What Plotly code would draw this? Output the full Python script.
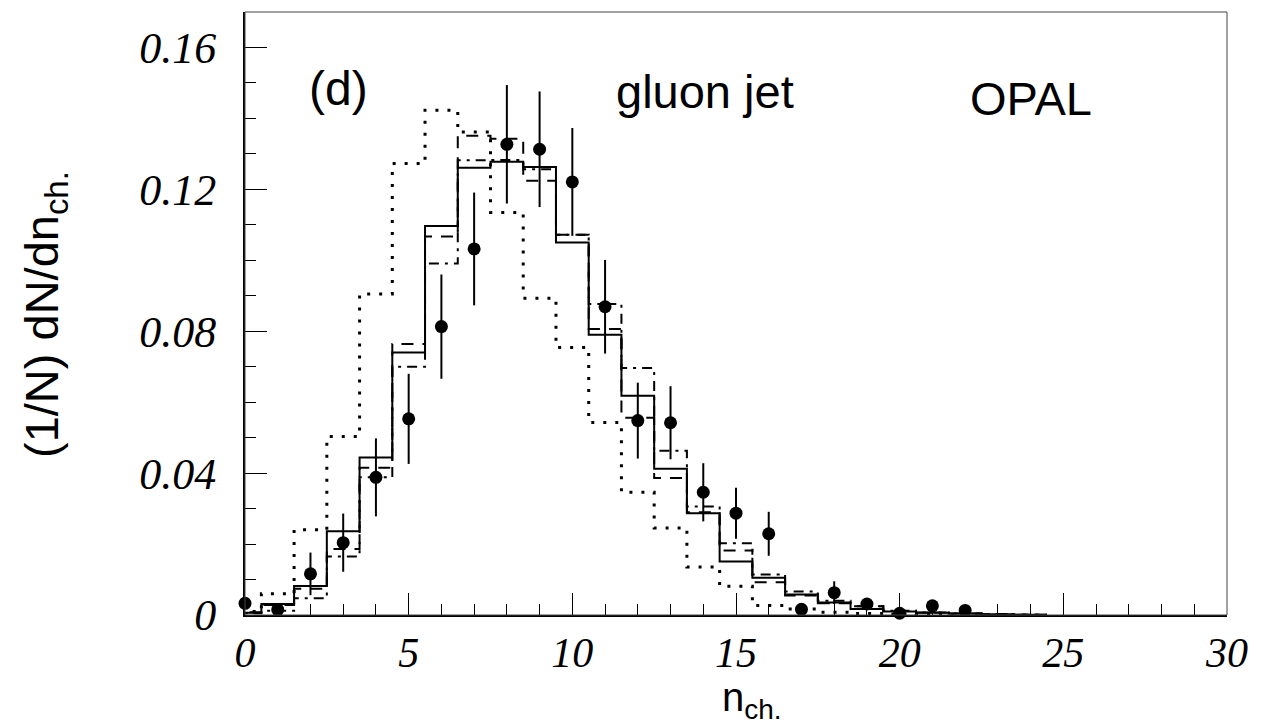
import plotly.graph_objects as go

# ---------------- data ----------------
n_bins = list(range(0, 25))

solid = [0.0006, 0.0031, 0.0082, 0.0236, 0.0444, 0.0740, 0.1097, 0.1261, 0.1278, 0.1263,
         0.1050, 0.0790, 0.0618, 0.0412, 0.0287, 0.0151, 0.0105, 0.0058, 0.0035, 0.0017,
         0.0010, 0.0006, 0.0004, 0.0002, 0.0001]
dashed = [0.0008, 0.0028, 0.0074, 0.0186, 0.0415, 0.0764, 0.1067, 0.1351, 0.1343, 0.1224,
          0.1072, 0.0806, 0.0556, 0.0386, 0.0290, 0.0182, 0.0092, 0.0055, 0.0033, 0.0025,
          0.0012, 0.0007, 0.0004, 0.0002, 0.0001]
dashdot = [0.0005, 0.0012, 0.0047, 0.0165, 0.0388, 0.0700, 0.0991, 0.1282, 0.1283, 0.1257,
           0.1072, 0.0877, 0.0696, 0.0463, 0.0306, 0.0202, 0.0114, 0.0066, 0.0040, 0.0025,
           0.0012, 0.0007, 0.0004, 0.0002, 0.0001]
dotted = [0.0010, 0.0060, 0.0240, 0.0503, 0.0905, 0.1273, 0.1423, 0.1362, 0.1135, 0.0893,
          0.0754, 0.0543, 0.0346, 0.0245, 0.0135, 0.0081, 0.0027, 0.0017, 0.0008, 0.0004,
          0.0002, 0.0001, 0.0001, 0.0000, 0.0000]

data_n = list(range(0, 23))
data_y = [0.0033, 0.0015, 0.0116, 0.0204, 0.0388, 0.0553, 0.0813, 0.1032, 0.1327, 0.1313,
          0.1221, 0.0869, 0.0548, 0.0542, 0.0346, 0.0287, 0.0229, 0.0016, 0.0063, 0.0031,
          0.0005, 0.0026, 0.0013]
data_err = [0.0010, 0.0012, 0.0060, 0.0082, 0.0110, 0.0127, 0.0147, 0.0159, 0.0167, 0.0163,
            0.0152, 0.0132, 0.0107, 0.0103, 0.0082, 0.0072, 0.0062, 0.0015, 0.0032, 0.0013,
            0.0008, 0.0012, 0.0010]

x_ticks = [0, 5, 10, 15, 20, 25, 30]
y_ticks = [0, 0.04, 0.08, 0.12, 0.16]
y_tick_labels = ["0", "0.04", "0.08", "0.12", "0.16"]


def steps(centers, vals):
    xs = [c - 0.5 for c in centers] + [centers[-1] + 0.5]
    ys = list(vals) + [vals[-1]]
    return xs, ys


fig = go.Figure()

styles = [
    (dotted, dict(color="black", width=3, dash="3px,9px")),
    (dashdot, dict(color="black", width=2, dash="10px,6px,3px,6px")),
    (dashed, dict(color="black", width=2, dash="12px,9px")),
    (solid, dict(color="black", width=2)),
]
for vals, line in styles:
    xs, ys = steps(n_bins, vals)
    fig.add_trace(go.Scatter(x=xs, y=ys, mode="lines", line_shape="hv", line=line,
                             showlegend=False, hoverinfo="skip"))

fig.add_trace(go.Scatter(
    x=data_n, y=data_y, mode="markers",
    marker=dict(color="black", size=13),
    error_y=dict(type="data", array=data_err, color="black", thickness=2, width=0),
    showlegend=False, cliponaxis=False))

y_tick_font = dict(family="Liberation Serif", size=44, color="black", style="italic")
x_tick_font = dict(family="Liberation Serif", size=42, color="black", style="italic")

fig.update_xaxes(
    range=[0, 30], tickvals=x_ticks, ticktext=[str(v) for v in x_ticks],
    ticks="inside", ticklen=22, tickwidth=1, tickcolor="black",
    minor=dict(ticks="inside", dtick=1, ticklen=11, tickcolor="black", tickwidth=1),
    showgrid=False, zeroline=False, showline=True, linecolor="black", linewidth=2,
    mirror=False, tickfont=x_tick_font, ticklabelstandoff=0)
fig.update_yaxes(
    range=[0, 0.17], tickvals=y_ticks, ticktext=y_tick_labels,
    ticks="inside", ticklen=22, tickwidth=1, tickcolor="black",
    minor=dict(ticks="inside", dtick=0.01, ticklen=11, tickcolor="black", tickwidth=1),
    showgrid=False, zeroline=False, showline=True, linecolor="black", linewidth=2,
    mirror=False, tickfont=y_tick_font, ticklabelstandoff=18)

# frame (top / right)
fig.add_shape(type="rect", xref="paper", yref="paper", x0=0, x1=1, y0=0, y1=1,
              line=dict(color="#444", width=1), layer="above")

sans = "Liberation Sans"
fig.add_annotation(x=2.85, y=0.1485, xref="x", yref="y", text="(d)", showarrow=False,
                   xanchor="center", yanchor="middle",
                   font=dict(family=sans, size=48, color="black"))
fig.add_annotation(x=14.05, y=0.1475, xref="x", yref="y", text="gluon jet", showarrow=False,
                   xanchor="center", yanchor="middle",
                   font=dict(family=sans, size=47, color="black"))
fig.add_annotation(x=24.0, y=0.1455, xref="x", yref="y", text="OPAL", showarrow=False,
                   xanchor="center", yanchor="middle",
                   font=dict(family=sans, size=47, color="black"))

W, H = 1266, 727
L, R, T, B = 245, 39, 12, 112


def px_to_paper(px, py):
    return (px - L) / (W - L - R), (H - B - py) / (H - T - B)


yx, yy = px_to_paper(45, 315)
fig.add_annotation(x=yx, y=yy, xref="paper", yref="paper", text="(1/N) dN/dn<sub>ch.</sub>",
                   showarrow=False, textangle=-90, xanchor="center", yanchor="middle",
                   font=dict(family=sans, size=47, color="black"))
tx, ty = px_to_paper(752, 726)
fig.add_annotation(x=tx, y=ty, xref="paper", yref="paper", text="n<sub>ch.</sub>",
                   showarrow=False, xanchor="center", yanchor="bottom", borderpad=0,
                   font=dict(family=sans, size=40, color="black"))

fig.update_layout(width=W, height=H, margin=dict(l=L, r=R, t=T, b=B),
                  plot_bgcolor="white", paper_bgcolor="white")

fig.write_html("out.html")
